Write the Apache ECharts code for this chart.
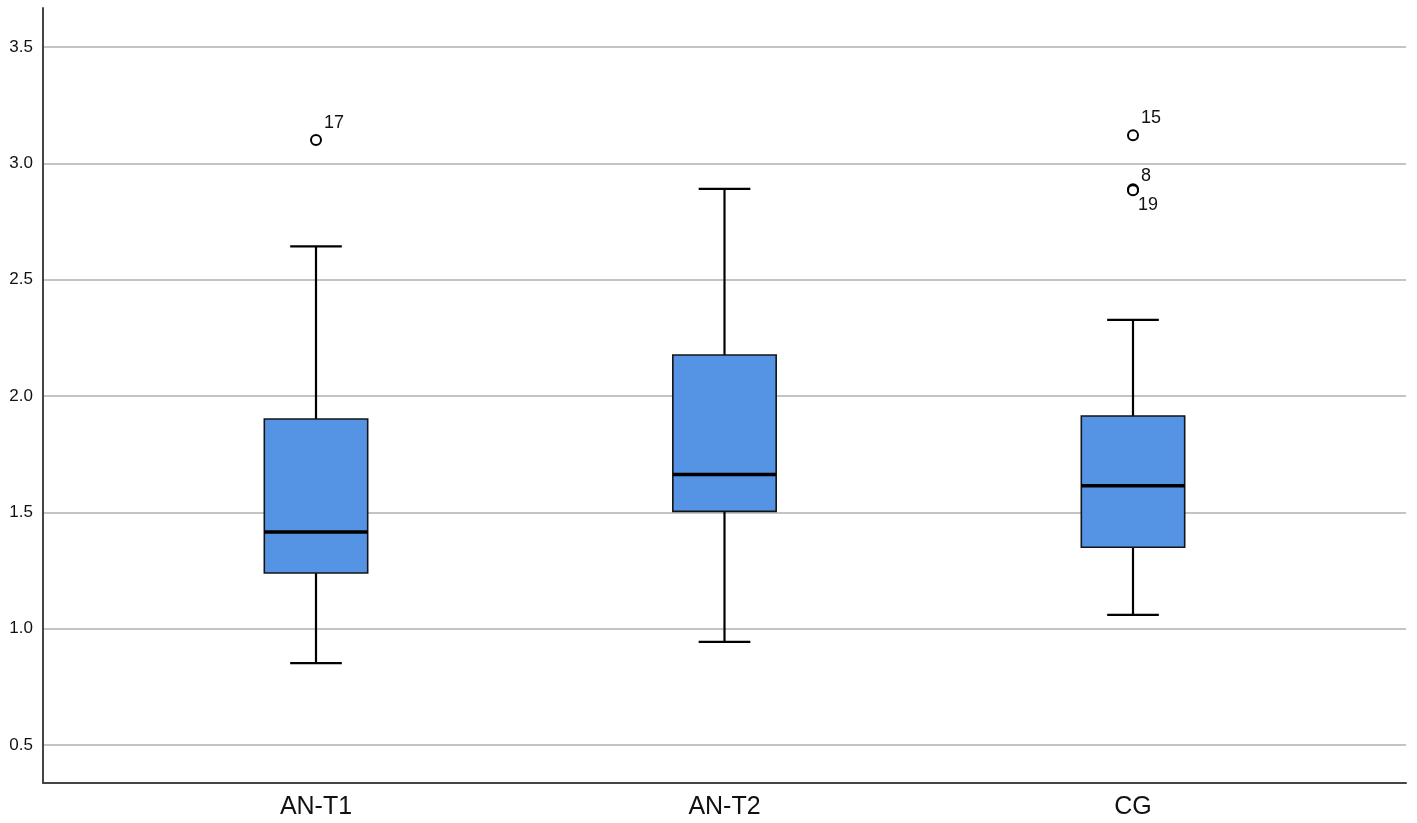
<!DOCTYPE html>
<html>
<head>
<meta charset="UTF-8">
<title>Boxplot</title>
<script src="https://cdn.jsdelivr.net/npm/echarts@6/dist/echarts.min.js"></script>
<style>
  html, body { margin: 0; padding: 0; background: #fff; }
  #main { width: 1417px; height: 823px; }
</style>
</head>
<body>
<div id="main"></div>
<script>
// groups and box statistics
var categories = ['AN-T1', 'AN-T2', 'CG'];
var lowWhisker  = [0.852, 0.943, 1.059];
var q1          = [1.239, 1.504, 1.350];
var median      = [1.415, 1.663, 1.614];
var q3          = [1.901, 2.176, 1.914];
var highWhisker = [2.643, 2.890, 2.327];

// outliers: group index, value, case label
var outlierGroup = [0, 2, 2, 2];
var outlierValue = [3.100, 3.121, 2.889, 2.884];
var outlierCase  = ['17', '15', '8', '19'];

var yTicks = [0.5, 1.0, 1.5, 2.0, 2.5, 3.0, 3.5];

var FONT = "'Liberation Sans', Arial, sans-serif";

var boxData = categories.map(function (c, i) {
    return [i, lowWhisker[i], q1[i], median[i], q3[i], highWhisker[i]];
});

// label placement per case (upper right, except 19 which sits below)
var labelOffset = { '17': [0, -17], '15': [0, -17], '8': [0, -13], '19': [-3, 15] };

var outlierData = outlierCase.map(function (id, i) {
    return {
        value: [outlierGroup[i], outlierValue[i]],
        label: { formatter: id, offset: labelOffset[id] }
    };
});

function renderBox(params, api) {
    var x = api.value(0);
    var pLow = api.coord([x, api.value(1)]);
    var pQ1 = api.coord([x, api.value(2)]);
    var pMed = api.coord([x, api.value(3)]);
    var pQ3 = api.coord([x, api.value(4)]);
    var pHigh = api.coord([x, api.value(5)]);
    var band = api.size([1, 0])[0];
    var bw = band * 0.253;
    var cw = bw / 2;
    var cx = pLow[0];
    var line = { stroke: '#000', lineWidth: 2.2 };
    return {
        type: 'group',
        children: [
            { type: 'line', shape: { x1: cx, y1: pLow[1], x2: cx, y2: pQ1[1] }, style: line },
            { type: 'line', shape: { x1: cx, y1: pQ3[1], x2: cx, y2: pHigh[1] }, style: line },
            { type: 'line', shape: { x1: cx - cw / 2, y1: pLow[1], x2: cx + cw / 2, y2: pLow[1] }, style: line },
            { type: 'line', shape: { x1: cx - cw / 2, y1: pHigh[1], x2: cx + cw / 2, y2: pHigh[1] }, style: line },
            { type: 'rect', shape: { x: cx - bw / 2, y: pQ3[1], width: bw, height: pQ1[1] - pQ3[1] },
              style: { fill: '#5594e4', stroke: '#141414', lineWidth: 1.6 } },
            { type: 'line', shape: { x1: cx - bw / 2, y1: pMed[1], x2: cx + bw / 2, y2: pMed[1] },
              style: { stroke: '#000', lineWidth: 3.5 } }
        ]
    };
}

var myChart = echarts.init(document.getElementById('main'), null, { renderer: 'canvas' });

var option = {
    backgroundColor: '#ffffff',
    animation: false,
    textStyle: { fontFamily: FONT },
    grid: [
        // frame with the two axis lines
        { left: 43, right: 11, top: 8, bottom: 40 },
        // gridlines and value labels
        { left: 43, right: 11, top: 47, bottom: 78 },
        // boxes
        { left: 111.75, right: 79.75, top: 47, bottom: 78 }
    ],
    xAxis: [
        { gridIndex: 0, type: 'value', min: 0, max: 1,
          axisLine: { show: true, lineStyle: { color: '#444', width: 2 } },
          axisTick: { show: false }, axisLabel: { show: false }, splitLine: { show: false } },
        { gridIndex: 1, type: 'value', min: 0, max: 1, show: false },
        { gridIndex: 2, type: 'category', data: categories, boundaryGap: true,
          axisLine: { show: false }, axisTick: { show: false }, splitLine: { show: false },
          axisLabel: { color: '#111', fontSize: 25, fontFamily: FONT, margin: 50 } }
    ],
    yAxis: [
        { gridIndex: 0, type: 'value', min: 0, max: 1,
          axisLine: { show: true, lineStyle: { color: '#444', width: 2 } },
          axisTick: { show: false }, axisLabel: { show: false }, splitLine: { show: false } },
        { gridIndex: 1, type: 'value', min: yTicks[0], max: yTicks[yTicks.length - 1], interval: 0.5,
          axisLine: { show: false }, axisTick: { show: false },
          axisLabel: { color: '#111', fontSize: 17, fontFamily: FONT, margin: 10,
                       formatter: function (v) { return v.toFixed(1); } },
          splitLine: { show: true, lineStyle: { color: '#c4c4c4', width: 2 } } },
        { gridIndex: 2, type: 'value', min: yTicks[0], max: yTicks[yTicks.length - 1], show: false }
    ],
    series: [
        {
            name: 'box',
            type: 'custom',
            xAxisIndex: 2,
            yAxisIndex: 2,
            renderItem: renderBox,
            encode: { x: 0, y: [1, 2, 3, 4, 5] },
            data: boxData,
            z: 3
        },
        {
            name: 'outliers',
            type: 'scatter',
            xAxisIndex: 2,
            yAxisIndex: 2,
            symbol: 'circle',
            symbolSize: 10,
            itemStyle: { color: '#fff', borderColor: '#000', borderWidth: 2, opacity: 1 },
            label: { show: true, position: 'right', distance: 2, color: '#111', fontSize: 18, fontFamily: FONT },
            data: outlierData,
            z: 4
        }
    ]
};

myChart.setOption(option);
</script>
</body>
</html>
